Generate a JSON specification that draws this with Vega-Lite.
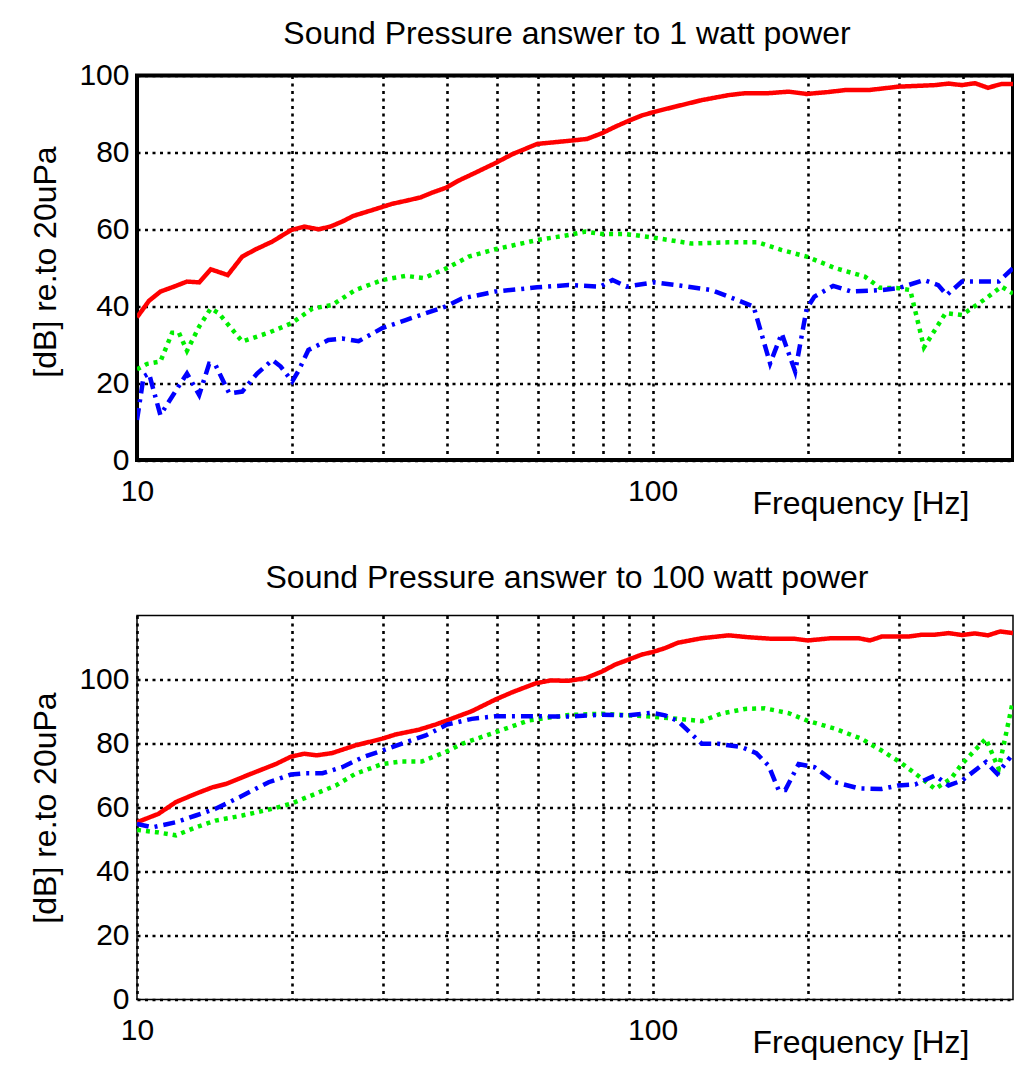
{
  "$schema": "https://vega.github.io/schema/vega-lite/v6.json",
  "background": "white",
  "padding": {"left": 27, "top": 15.5, "right": 0, "bottom": 0},
  "bounds": "flush",
  "spacing": 155,
  "config": {
    "font": "Liberation Sans",
    "view": {"stroke": "black"},
    "axis": {
      "labelFont": "Liberation Sans", "labelFontSize": 30, "labelColor": "black",
      "titleFont": "Liberation Sans", "titleFontSize": 32, "titleFontWeight": "normal", "titleColor": "black",
      "ticks": false, "domain": false, "grid": true, "gridColor": "black", "gridOpacity": 1,
      "gridDash": [3, 4.5], "gridWidth": 2.6, "labelFlush": false, "labelOverlap": false
    },
    "title": {"font": "Liberation Sans", "fontSize": 32, "fontWeight": "normal", "color": "black", "anchor": "middle", "baseline": "alphabetic"}
  },
  "datasets": {
    "top": [
      {"s":"A","f":10,"v":37.1},{"s":"A","f":10.55,"v":41.4},{"s":"A","f":11.1,"v":43.8},{"s":"A","f":11.8,"v":45.1},{"s":"A","f":12.5,"v":46.4},{"s":"A","f":13.2,"v":46.2},{"s":"A","f":13.9,"v":49.6},{"s":"A","f":15.0,"v":48.1},{"s":"A","f":16.0,"v":52.9},{"s":"A","f":17.0,"v":54.8},{"s":"A","f":18.3,"v":56.8},{"s":"A","f":19.9,"v":59.8},{"s":"A","f":21.1,"v":60.7},{"s":"A","f":22.5,"v":60.0},{"s":"A","f":23.7,"v":60.7},{"s":"A","f":25.0,"v":62.0},{"s":"A","f":26.3,"v":63.5},{"s":"A","f":28.6,"v":65.0},{"s":"A","f":31.2,"v":66.6},{"s":"A","f":33.2,"v":67.4},{"s":"A","f":35.5,"v":68.3},{"s":"A","f":37.3,"v":69.5},{"s":"A","f":39.9,"v":70.9},{"s":"A","f":42.1,"v":72.7},{"s":"A","f":45.3,"v":74.7},{"s":"A","f":49.5,"v":77.2},{"s":"A","f":53.4,"v":79.5},{"s":"A","f":59.7,"v":82.2},{"s":"A","f":68.7,"v":83.0},{"s":"A","f":74.6,"v":83.5},{"s":"A","f":79.8,"v":85.0},{"s":"A","f":84.7,"v":86.7},{"s":"A","f":89.8,"v":88.2},{"s":"A","f":95.3,"v":89.6},{"s":"A","f":101.2,"v":90.6},{"s":"A","f":110.6,"v":91.9},{"s":"A","f":124.6,"v":93.6},{"s":"A","f":140.4,"v":94.9},{"s":"A","f":151.2,"v":95.4},{"s":"A","f":167.8,"v":95.4},{"s":"A","f":183.5,"v":95.8},{"s":"A","f":199,"v":95.2},{"s":"A","f":219,"v":95.7},{"s":"A","f":236,"v":96.2},{"s":"A","f":262,"v":96.2},{"s":"A","f":300,"v":97.1},{"s":"A","f":353,"v":97.5},{"s":"A","f":375,"v":97.9},{"s":"A","f":398,"v":97.5},{"s":"A","f":422,"v":98.0},{"s":"A","f":447,"v":96.8},{"s":"A","f":475,"v":97.8},{"s":"A","f":500,"v":97.8},
      {"s":"B","f":10,"v":23.6},{"s":"B","f":10.47,"v":25.0},{"s":"B","f":11.1,"v":25.6},{"s":"B","f":11.7,"v":33.1},{"s":"B","f":12.06,"v":33.1},{"s":"B","f":12.5,"v":28.4},{"s":"B","f":13.2,"v":34.7},{"s":"B","f":13.9,"v":39.4},{"s":"B","f":14.4,"v":38.2},{"s":"B","f":16.0,"v":30.8},{"s":"B","f":18.0,"v":33.1},{"s":"B","f":19.9,"v":35.5},{"s":"B","f":21.9,"v":39.4},{"s":"B","f":23.9,"v":40.3},{"s":"B","f":26.5,"v":44.2},{"s":"B","f":29.9,"v":46.8},{"s":"B","f":33.2,"v":47.9},{"s":"B","f":36.0,"v":47.3},{"s":"B","f":39.9,"v":49.9},{"s":"B","f":44.0,"v":52.9},{"s":"B","f":49.5,"v":54.8},{"s":"B","f":59.7,"v":57.2},{"s":"B","f":68.7,"v":58.5},{"s":"B","f":74.1,"v":59.4},{"s":"B","f":79.8,"v":58.8},{"s":"B","f":88.4,"v":58.8},{"s":"B","f":99.6,"v":57.9},{"s":"B","f":119,"v":56.3},{"s":"B","f":140,"v":56.6},{"s":"B","f":160,"v":56.6},{"s":"B","f":178,"v":54.6},{"s":"B","f":199,"v":52.9},{"s":"B","f":226,"v":49.9},{"s":"B","f":258,"v":47.7},{"s":"B","f":276,"v":44.8},{"s":"B","f":300,"v":44.7},{"s":"B","f":316,"v":44.2},{"s":"B","f":336,"v":29.3},{"s":"B","f":370,"v":38.2},{"s":"B","f":398,"v":37.7},{"s":"B","f":443,"v":42.0},{"s":"B","f":475,"v":45.1},{"s":"B","f":500,"v":43.3},
      {"s":"C","f":10,"v":10.4},{"s":"C","f":10.3,"v":21.7},{"s":"C","f":10.55,"v":22.5},{"s":"C","f":11.1,"v":11.7},{"s":"C","f":11.8,"v":17.3},{"s":"C","f":12.5,"v":22.5},{"s":"C","f":13.2,"v":16.9},{"s":"C","f":13.8,"v":25.0},{"s":"C","f":14.2,"v":24.7},{"s":"C","f":15.1,"v":17.3},{"s":"C","f":16.0,"v":17.8},{"s":"C","f":17.1,"v":22.5},{"s":"C","f":18.3,"v":26.0},{"s":"C","f":19.0,"v":24.3},{"s":"C","f":20.0,"v":20.4},{"s":"C","f":20.6,"v":23.4},{"s":"C","f":21.5,"v":28.6},{"s":"C","f":23.5,"v":31.2},{"s":"C","f":25.0,"v":31.6},{"s":"C","f":26.9,"v":30.9},{"s":"C","f":29.9,"v":34.3},{"s":"C","f":33.2,"v":36.4},{"s":"C","f":36.0,"v":38.0},{"s":"C","f":39.6,"v":39.9},{"s":"C","f":42.7,"v":42.0},{"s":"C","f":49.5,"v":43.8},{"s":"C","f":59.7,"v":44.9},{"s":"C","f":68.7,"v":45.5},{"s":"C","f":79.2,"v":45.1},{"s":"C","f":83.6,"v":46.8},{"s":"C","f":89,"v":45.1},{"s":"C","f":100.5,"v":46.2},{"s":"C","f":113.8,"v":45.3},{"s":"C","f":130,"v":44.2},{"s":"C","f":146,"v":41.6},{"s":"C","f":157,"v":39.9},{"s":"C","f":169,"v":25.1},{"s":"C","f":178,"v":32.9},{"s":"C","f":189,"v":23.0},{"s":"C","f":199,"v":39.4},{"s":"C","f":206,"v":42.5},{"s":"C","f":224,"v":45.3},{"s":"C","f":243,"v":43.8},{"s":"C","f":278,"v":44.2},{"s":"C","f":300,"v":44.7},{"s":"C","f":336,"v":46.8},{"s":"C","f":358,"v":45.5},{"s":"C","f":372,"v":42.9},{"s":"C","f":398,"v":46.4},{"s":"C","f":469,"v":46.4},{"s":"C","f":500,"v":49.9}
    ],
    "bottom": [
      {"s":"A","f":10,"v":55.4},{"s":"A","f":11.0,"v":58.0},{"s":"A","f":11.9,"v":61.7},{"s":"A","f":13.0,"v":64.3},{"s":"A","f":14.0,"v":66.3},{"s":"A","f":14.9,"v":67.4},{"s":"A","f":16.5,"v":70.3},{"s":"A","f":18.6,"v":73.6},{"s":"A","f":19.9,"v":75.9},{"s":"A","f":21.1,"v":76.8},{"s":"A","f":22.3,"v":76.3},{"s":"A","f":23.9,"v":77.0},{"s":"A","f":26.5,"v":79.4},{"s":"A","f":29.9,"v":81.5},{"s":"A","f":31.7,"v":82.8},{"s":"A","f":35.2,"v":84.3},{"s":"A","f":37.9,"v":85.9},{"s":"A","f":39.9,"v":87.2},{"s":"A","f":44.6,"v":90.1},{"s":"A","f":49.5,"v":93.7},{"s":"A","f":53.4,"v":96.0},{"s":"A","f":59.3,"v":98.8},{"s":"A","f":63.4,"v":99.7},{"s":"A","f":68.7,"v":99.6},{"s":"A","f":74.1,"v":100.4},{"s":"A","f":79.8,"v":102.5},{"s":"A","f":84.7,"v":104.7},{"s":"A","f":89.8,"v":106.2},{"s":"A","f":95.3,"v":107.8},{"s":"A","f":99.6,"v":108.5},{"s":"A","f":105.7,"v":109.8},{"s":"A","f":112,"v":111.5},{"s":"A","f":124.6,"v":112.9},{"s":"A","f":140.4,"v":113.8},{"s":"A","f":153.6,"v":113.2},{"s":"A","f":171,"v":112.7},{"s":"A","f":189,"v":112.7},{"s":"A","f":200,"v":112.2},{"s":"A","f":222,"v":112.9},{"s":"A","f":251,"v":112.9},{"s":"A","f":264,"v":112.2},{"s":"A","f":278,"v":113.4},{"s":"A","f":313,"v":113.4},{"s":"A","f":333,"v":114.0},{"s":"A","f":353,"v":114.0},{"s":"A","f":375,"v":114.5},{"s":"A","f":398,"v":113.9},{"s":"A","f":422,"v":114.4},{"s":"A","f":447,"v":113.8},{"s":"A","f":472,"v":115.0},{"s":"A","f":500,"v":114.5},
      {"s":"B","f":10,"v":53.0},{"s":"B","f":10.9,"v":52.3},{"s":"B","f":11.9,"v":51.3},{"s":"B","f":13.0,"v":53.8},{"s":"B","f":14.2,"v":55.9},{"s":"B","f":16.0,"v":57.5},{"s":"B","f":18.3,"v":59.6},{"s":"B","f":19.9,"v":61.2},{"s":"B","f":22.2,"v":64.3},{"s":"B","f":24.3,"v":66.9},{"s":"B","f":26.5,"v":70.5},{"s":"B","f":29.9,"v":73.6},{"s":"B","f":32.7,"v":74.4},{"s":"B","f":35.7,"v":74.4},{"s":"B","f":39.6,"v":77.3},{"s":"B","f":42.7,"v":79.9},{"s":"B","f":49.5,"v":83.5},{"s":"B","f":57.5,"v":87.2},{"s":"B","f":68.7,"v":88.9},{"s":"B","f":79.8,"v":89.3},{"s":"B","f":89.8,"v":88.8},{"s":"B","f":99.6,"v":88.4},{"s":"B","f":112,"v":87.7},{"s":"B","f":124.6,"v":87.0},{"s":"B","f":135.6,"v":89.3},{"s":"B","f":151,"v":90.8},{"s":"B","f":165,"v":91.0},{"s":"B","f":183.5,"v":89.5},{"s":"B","f":199,"v":87.2},{"s":"B","f":226,"v":84.6},{"s":"B","f":254,"v":81.5},{"s":"B","f":278,"v":77.8},{"s":"B","f":303,"v":74.0},{"s":"B","f":333,"v":69.0},{"s":"B","f":353,"v":65.8},{"s":"B","f":379,"v":69.0},{"s":"B","f":398,"v":73.6},{"s":"B","f":443,"v":81.5},{"s":"B","f":469,"v":72.1},{"s":"B","f":500,"v":93.4},
      {"s":"C","f":10,"v":54.9},{"s":"C","f":10.7,"v":53.8},{"s":"C","f":11.9,"v":55.4},{"s":"C","f":13.0,"v":57.5},{"s":"C","f":14.2,"v":59.6},{"s":"C","f":15.8,"v":63.2},{"s":"C","f":18.0,"v":67.9},{"s":"C","f":19.9,"v":70.3},{"s":"C","f":21.2,"v":70.7},{"s":"C","f":22.9,"v":70.7},{"s":"C","f":25.0,"v":72.6},{"s":"C","f":27.4,"v":75.7},{"s":"C","f":29.9,"v":77.8},{"s":"C","f":33.2,"v":80.4},{"s":"C","f":36.3,"v":82.5},{"s":"C","f":39.9,"v":85.9},{"s":"C","f":44.6,"v":87.7},{"s":"C","f":49.5,"v":88.5},{"s":"C","f":59.3,"v":88.5},{"s":"C","f":68.7,"v":88.4},{"s":"C","f":79.8,"v":89.0},{"s":"C","f":89.8,"v":88.8},{"s":"C","f":99.6,"v":89.6},{"s":"C","f":105.7,"v":88.8},{"s":"C","f":112,"v":87.0},{"s":"C","f":124.6,"v":79.9},{"s":"C","f":134,"v":79.9},{"s":"C","f":148.6,"v":78.9},{"s":"C","f":158.9,"v":77.0},{"s":"C","f":167.8,"v":73.1},{"s":"C","f":175.5,"v":65.5},{"s":"C","f":180.9,"v":65.5},{"s":"C","f":192,"v":73.6},{"s":"C","f":206,"v":72.6},{"s":"C","f":226,"v":67.9},{"s":"C","f":251,"v":66.0},{"s":"C","f":278,"v":65.8},{"s":"C","f":300,"v":66.9},{"s":"C","f":323,"v":67.2},{"s":"C","f":353,"v":70.0},{"s":"C","f":375,"v":66.9},{"s":"C","f":398,"v":68.4},{"s":"C","f":443,"v":74.2},{"s":"C","f":466,"v":70.5},{"s":"C","f":494,"v":75.7}
    ]
  },
  "vconcat": [
    {
      "width": 876, "height": 384.5,
      "title": {"text": "Sound Pressure answer to 1 watt power", "offset": 10, "dx": -8},
      "view": {"stroke": "black", "strokeWidth": 4},
      "data": {"name": "top"},
      "mark": {"type": "line", "clip": true, "strokeWidth": 4.5},
      "encoding": {
        "x": {"field": "f", "type": "quantitative",
          "scale": {"type": "log", "domain": [10, 500], "nice": false},
          "axis": {"values": [10,20,30,40,50,60,70,80,90,100,200,300,400],
            "labelExpr": "datum.value == 10 ? '10' : (datum.value == 100 ? '100' : '')",
            "labelPadding": 16, "title": "Frequency [Hz]", "titleX": 832, "titleY": 53,
            "titleAlign": "right", "titleBaseline": "alphabetic"}},
        "y": {"field": "v", "type": "quantitative",
          "scale": {"domain": [0, 100], "nice": false, "zero": false},
          "axis": {"values": [0,20,40,60,80,100], "labelPadding": 8, "title": "[dB] re.to 20uPa",
            "titleX": -82, "titleY": 186, "titleAngle": -90, "titleAlign": "center", "titleBaseline": "alphabetic"}},
        "color": {"field": "s", "type": "nominal", "scale": {"domain": ["A","B","C"], "range": ["#ff0000","#00ee00","#0000ff"]}, "legend": null},
        "strokeDash": {"field": "s", "type": "nominal", "scale": {"domain": ["A","B","C"], "range": [[1,0],[4,5],[12,6,3,6]]}, "legend": null}
      }
    },
    {
      "width": 876, "height": 384,
      "title": {"text": "Sound Pressure answer to 100 watt power", "offset": 21, "dx": -8},
      "view": {"stroke": "black", "strokeWidth": 1.5},
      "data": {"name": "bottom"},
      "mark": {"type": "line", "clip": true, "strokeWidth": 4.5},
      "encoding": {
        "x": {"field": "f", "type": "quantitative",
          "scale": {"type": "log", "domain": [10, 500], "nice": false},
          "axis": {"values": [10,20,30,40,50,60,70,80,90,100,200,300,400],
            "labelExpr": "datum.value == 10 ? '10' : (datum.value == 100 ? '100' : '')",
            "labelPadding": 16, "title": "Frequency [Hz]", "titleX": 832, "titleY": 53,
            "titleAlign": "right", "titleBaseline": "alphabetic"}},
        "y": {"field": "v", "type": "quantitative",
          "scale": {"domain": [0, 120], "nice": false, "zero": false},
          "axis": {"values": [0,20,40,60,80,100], "labelPadding": 8, "title": "[dB] re.to 20uPa",
            "titleX": -82, "titleY": 192, "titleAngle": -90, "titleAlign": "center", "titleBaseline": "alphabetic"}},
        "color": {"field": "s", "type": "nominal", "scale": {"domain": ["A","B","C"], "range": ["#ff0000","#00ee00","#0000ff"]}, "legend": null},
        "strokeDash": {"field": "s", "type": "nominal", "scale": {"domain": ["A","B","C"], "range": [[1,0],[4,5],[12,6,3,6]]}, "legend": null}
      }
    }
  ]
}
